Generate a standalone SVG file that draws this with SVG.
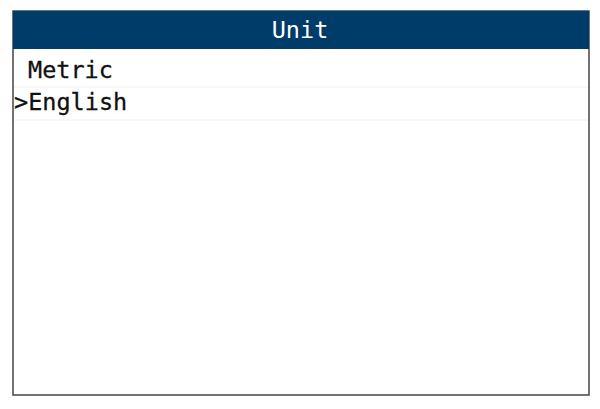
<svg xmlns="http://www.w3.org/2000/svg" width="600" height="409" viewBox="0 0 600 409">
<style>
.t{font-family:"DejaVu Sans Mono","Liberation Mono",monospace;font-size:23.5px;fill:#111;stroke:#111;stroke-width:0.3}
.h{font-family:"DejaVu Sans Mono","Liberation Mono",monospace;font-size:23.5px;fill:#fff}
.sep{stroke:#f0f0f0;stroke-width:1}
</style>
<rect x="0" y="0" width="600" height="409" fill="#fff"/>
<g id="screen">
<rect x="13" y="11" width="576" height="384" fill="#fff" stroke="#444" stroke-width="1.5"/>
<rect x="13" y="11" width="576" height="38" fill="#003c6a"/>
<text class="h" x="300" y="38" text-anchor="middle">Unit</text>
</g>
<g id="row-metric">
<text class="t" x="28" y="78">Metric</text>
<line class="sep" x1="14" y1="87" x2="588" y2="87"/>
</g>
<g id="row-english">
<text class="t" x="14" y="110">&gt;English</text>
<line class="sep" x1="14" y1="120" x2="588" y2="120"/>
</g>
</svg>
